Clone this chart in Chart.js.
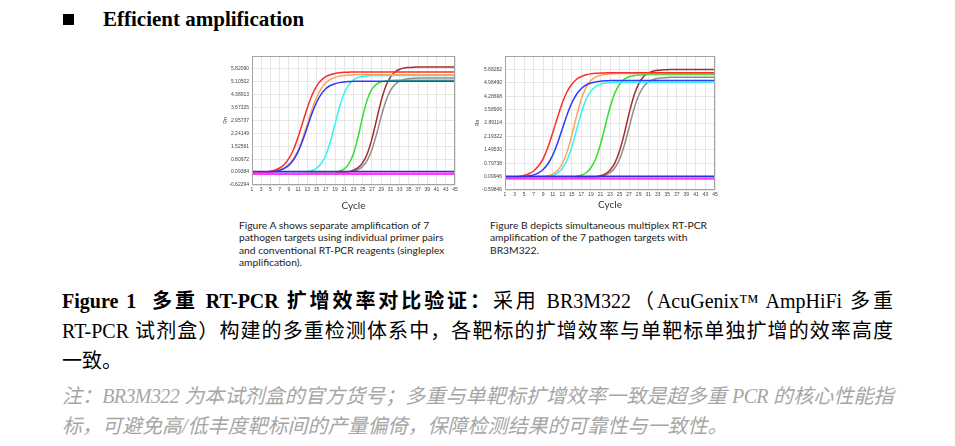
<!DOCTYPE html>
<html><head><meta charset="utf-8">
<script src="https://cdn.jsdelivr.net/npm/chart.js@4.4.0/dist/chart.umd.min.js"></script>
<style>
html,body{margin:0;padding:0;background:#fff;width:955px;height:446px;overflow:hidden;position:relative;}
.abs{position:absolute;}
#bullet{left:63px;top:14px;width:11px;height:11px;background:#000;}
#head{left:103px;top:9px;font:bold 21px/21px "Liberation Serif";color:#000;white-space:nowrap;}
.cap{font-family:Lato;font-size:11px;line-height:12.4px;color:#222;white-space:nowrap;}
.main{left:62px;width:831px;font-family:"Liberation Serif","Noto Sans CJK SC";font-size:20px;line-height:30px;color:#000;}
.just{text-align:justify;text-align-last:justify;}
.note{color:#a6a6a6;font-style:italic;}
.tight{letter-spacing:-0.6px;}
canvas{position:absolute;}
</style>
</head><body>
<div id="bullet" class="abs"></div>
<div id="head" class="abs">Efficient amplification</div>

<canvas id="cA" width="245" height="165" style="left:215px;top:50px;width:245px;height:165px"></canvas>
<canvas id="cB" width="248" height="165" style="left:472px;top:50px;width:248px;height:165px"></canvas>

<div id="capA" class="abs cap" style="left:239px;top:219px" data-w="191">Figure A shows separate amplification of 7<br>pathogen targets using individual primer pairs<br>and conventional RT-PCR reagents (singleplex<br>amplification).</div>
<div id="capB" class="abs cap" style="left:490px;top:219px" data-w="217">Figure B depicts simultaneous multiplex RT-PCR<br>amplification of the 7 pathogen targets with<br>BR3M322.</div>

<div class="abs main just" style="top:286px"><b>Figure 1&nbsp; 多重 RT-PCR 扩增效率对比验证：</b>采用 BR3M322（AcuGenix™ AmpHiFi 多重</div>
<div class="abs main just" style="top:316px">RT-PCR 试剂盒）构建的多重检测体系中，各靶标的扩增效率与单靶标单独扩增的效率高度</div>
<div class="abs main" style="top:346px">一致。</div>
<div class="abs main just note tight" style="top:381px">注：BR3M322 为本试剂盒的官方货号；多重与单靶标扩增效率一致是超多重 PCR 的核心性能指</div>
<div class="abs main note" style="top:411px">标，可避免高/低丰度靶标间的产量偏倚，保障检测结果的可靠性与一致性。</div>

<script>
const cycles = [1,2,3,4,5,6,7,8,9,10,11,12,13,14,15,16,17,18,19,20,21,22,23,24,25,26,27,28,29,30,31,32,33,34,35,36,37,38,39,40,41,42,43,44,45];

const yTickLabelsA = ["-0.62294","0.09384","0.80972","1.52561","2.24149","2.95737","3.67325","4.38913","5.10502","5.82090"];
const yTickLabelsB = ["-0.59846","0.09946","0.79738","1.49530","2.19322","2.89114","3.58906","4.28698","4.98490","5.68282"];

// Figure A (singleplex)
const redA = [0.07,0.07,0.09,0.11,0.14,0.21,0.32,0.52,0.85,1.35,2.04,2.86,3.67,4.36,4.86,
  5.19,5.39,5.50,5.57,5.61,5.63,5.64,5.65,5.65,5.65,5.65,5.65,5.65,5.65,5.65,
  5.65,5.65,5.65,5.65,5.65,5.65,5.65,5.65,5.65,5.65,5.65,5.65,5.65,5.65,5.65];
const orangeA = [0.06,0.07,0.07,0.08,0.10,0.14,0.21,0.32,0.51,0.83,1.32,1.99,2.78,3.57,4.24,
  4.73,5.05,5.24,5.35,5.42,5.46,5.48,5.49,5.50,5.50,5.50,5.50,5.50,5.50,5.50,
  5.50,5.50,5.50,5.50,5.50,5.50,5.50,5.50,5.50,5.50,5.50,5.50,5.50,5.50,5.50];
const blueA = [0.06,0.07,0.07,0.08,0.10,0.14,0.20,0.30,0.48,0.78,1.23,1.86,2.60,3.34,3.97,
  4.42,4.72,4.90,5.00,5.06,5.10,5.12,5.13,5.14,5.14,5.14,5.14,5.14,5.14,5.14,
  5.14,5.14,5.14,5.14,5.14,5.14,5.14,5.14,5.14,5.14,5.14,5.14,5.14,5.14,5.14];
const cyanA = [0.06,0.06,0.06,0.06,0.06,0.06,0.06,0.06,0.06,0.07,0.07,0.09,0.12,0.18,0.31,
  0.57,1.04,1.79,2.76,3.73,4.48,4.95,5.21,5.34,5.40,5.43,5.45,5.46,5.46,5.46,
  5.46,5.46,5.46,5.46,5.46,5.46,5.46,5.46,5.46,5.46,5.46,5.46,5.46,5.46,5.46];
const greenA = [0.06,0.06,0.06,0.06,0.06,0.06,0.06,0.06,0.06,0.06,0.06,0.06,0.06,0.06,0.06,
  0.06,0.07,0.08,0.10,0.15,0.27,0.55,1.12,2.06,3.19,4.13,4.70,4.98,5.10,5.15,
  5.18,5.19,5.19,5.19,5.19,5.19,5.19,5.19,5.19,5.19,5.19,5.19,5.19,5.19,5.19];
const grayA = [0.06,0.06,0.06,0.06,0.06,0.06,0.06,0.06,0.06,0.06,0.06,0.06,0.06,0.06,0.06,
  0.06,0.06,0.06,0.06,0.07,0.08,0.10,0.14,0.23,0.42,0.76,1.35,2.20,3.18,4.03,
  4.62,4.96,5.15,5.24,5.28,5.30,5.31,5.32,5.32,5.32,5.32,5.32,5.32,5.32,5.32];
const brownA = [0.06,0.06,0.06,0.06,0.06,0.06,0.06,0.06,0.06,0.06,0.06,0.06,0.06,0.06,0.06,
  0.06,0.06,0.06,0.07,0.07,0.09,0.12,0.20,0.34,0.62,1.13,1.94,3.00,4.05,4.86,
  5.37,5.65,5.80,5.87,5.90,5.92,5.93,5.93,5.93,5.93,5.93,5.93,5.93,5.93,5.93];
const flatBlueA = [0.13,0.13,0.13,0.13,0.13,0.13,0.13,0.13,0.13,0.13,0.13,0.13,0.13,0.13,0.13,
  0.13,0.13,0.13,0.13,0.13,0.13,0.13,0.13,0.13,0.13,0.13,0.13,0.13,0.13,0.13,
  0.13,0.13,0.13,0.13,0.13,0.13,0.13,0.13,0.13,0.13,0.13,0.13,0.13,0.13,0.13];
const flatMagentaA = [0.00,0.00,0.00,0.00,0.00,0.00,0.00,0.00,0.00,0.00,0.00,0.00,0.00,0.00,0.00,
  0.00,0.00,0.00,0.00,0.00,0.00,0.00,0.00,0.00,0.00,0.00,0.00,0.00,0.00,0.00,
  0.00,0.00,0.00,0.00,0.00,0.00,0.00,0.00,0.00,0.00,0.00,0.00,0.00,0.00,0.00];

// Figure B (multiplex)
const redB = [0.06,0.07,0.08,0.11,0.16,0.25,0.39,0.65,1.04,1.63,2.38,3.18,3.93,4.52,4.91,
  5.17,5.31,5.40,5.45,5.48,5.49,5.50,5.51,5.51,5.51,5.51,5.51,5.51,5.51,5.51,
  5.51,5.51,5.51,5.51,5.51,5.51,5.51,5.51,5.51,5.51,5.51,5.51,5.51,5.51,5.51];
const blueB = [0.05,0.06,0.06,0.07,0.09,0.13,0.19,0.29,0.47,0.77,1.22,1.84,2.58,3.32,3.94,
  4.39,4.69,4.87,4.97,5.03,5.07,5.09,5.10,5.11,5.11,5.11,5.11,5.11,5.11,5.11,
  5.11,5.11,5.11,5.11,5.11,5.11,5.11,5.11,5.11,5.11,5.11,5.11,5.11,5.11,5.11];
const orangeB = [0.05,0.05,0.05,0.05,0.05,0.05,0.06,0.07,0.09,0.14,0.23,0.42,0.77,1.38,2.26,
  3.26,4.14,4.75,5.10,5.29,5.38,5.43,5.45,5.46,5.47,5.47,5.47,5.47,5.47,5.47,
  5.47,5.47,5.47,5.47,5.47,5.47,5.47,5.47,5.47,5.47,5.47,5.47,5.47,5.47,5.47];
const cyanB = [0.05,0.05,0.05,0.05,0.05,0.05,0.06,0.06,0.08,0.10,0.16,0.28,0.52,0.95,1.65,
  2.54,3.42,4.12,4.55,4.79,4.91,4.97,4.99,5.01,5.02,5.02,5.02,5.02,5.02,5.02,
  5.02,5.02,5.02,5.02,5.02,5.02,5.02,5.02,5.02,5.02,5.02,5.02,5.02,5.02,5.02];
const greenB = [0.05,0.05,0.05,0.05,0.05,0.05,0.05,0.05,0.05,0.05,0.05,0.05,0.06,0.06,0.08,
  0.11,0.17,0.30,0.56,1.03,1.77,2.74,3.70,4.44,4.91,5.17,5.30,5.36,5.39,5.41,
  5.42,5.42,5.42,5.42,5.42,5.42,5.42,5.42,5.42,5.42,5.42,5.42,5.42,5.42,5.42];
const brownB = [0.05,0.05,0.05,0.05,0.05,0.05,0.05,0.05,0.05,0.05,0.05,0.05,0.05,0.05,0.05,
  0.05,0.05,0.06,0.07,0.09,0.14,0.24,0.43,0.80,1.43,2.34,3.39,4.30,4.93,5.30,
  5.49,5.59,5.64,5.66,5.67,5.68,5.68,5.68,5.68,5.68,5.68,5.68,5.68,5.68,5.68];
const grayB = [0.05,0.05,0.05,0.05,0.05,0.05,0.05,0.05,0.05,0.05,0.05,0.05,0.05,0.05,0.05,
  0.05,0.05,0.06,0.06,0.08,0.11,0.17,0.30,0.55,1.00,1.73,2.66,3.59,4.32,4.77,
  5.02,5.15,5.21,5.24,5.26,5.27,5.27,5.27,5.27,5.27,5.27,5.27,5.27,5.27,5.27];
const flatBlueB = [0.12,0.12,0.12,0.12,0.12,0.12,0.12,0.12,0.12,0.12,0.12,0.12,0.12,0.12,0.12,
  0.12,0.12,0.12,0.12,0.12,0.12,0.12,0.12,0.12,0.12,0.12,0.12,0.12,0.12,0.12,
  0.12,0.12,0.12,0.12,0.12,0.12,0.12,0.12,0.12,0.12,0.12,0.12,0.12,0.12,0.12];
const flatMagentaB = [0.00,0.00,0.00,0.00,0.00,0.00,0.00,0.00,0.00,0.00,0.00,0.00,0.00,0.00,0.00,
  0.00,0.00,0.00,0.00,0.00,0.00,0.00,0.00,0.00,0.00,0.00,0.00,0.00,0.00,0.00,
  0.00,0.00,0.00,0.00,0.00,0.00,0.00,0.00,0.00,0.00,0.00,0.00,0.00,0.00,0.00];

const COLORS = {red:'#ff2b2b', orange:'#ffa25a', blue:'#2b3cff', cyan:'#36f2f2', green:'#2fe02f',
  gray:'#8e8e8e', brown:'#a52d2d', flatBlue:'#2233e0', magenta:'#ff38ff'};

// fit caption font so its first line spans the width seen in the reference
(function fitCaptions(){
  const m = document.createElement('canvas').getContext('2d');
  ['capA','capB'].forEach(id=>{
    const el = document.getElementById(id);
    const first = el.innerHTML.split('<br>')[0];
    m.font = '10px Lato';
    const w = m.measureText(first).width;
    const target = parseFloat(el.dataset.w);
    if (w > 0) el.style.fontSize = (10*target/w).toFixed(2)+'px';
  });
})();

function ds(data, color, w){
  return {data, borderColor:color, backgroundColor:color, borderWidth:w||1.5,
    pointRadius:0, fill:false, cubicInterpolationMode:'monotone'};
}

const framePlugin = {
  id:'frame',
  afterDatasetsDraw(chart){
    const {ctx, chartArea:a} = chart;
    ctx.save();
    ctx.strokeStyle = '#a3a3a3';
    ctx.lineWidth = 1;
    ctx.strokeRect(Math.round(a.left)+0.5, Math.round(a.top)+0.5, Math.round(a.right-a.left)-1, Math.round(a.bottom-a.top)-1);
    ctx.restore();
  }
};

function makeChart(id, datasets, tickLabels, geo){
  const tickVals = tickLabels.map(parseFloat);
  const step = tickVals[1]-tickVals[0];
  const yMin = tickVals[0];
  const yMax = tickVals[tickVals.length-1] + step;
  return new Chart(document.getElementById(id), {
    type:'line',
    data:{labels:cycles, datasets},
    plugins:[framePlugin],
    options:{
      responsive:false, animation:false, devicePixelRatio:1,
      layout:{padding:{top:geo.padTop, right:geo.padRight, bottom:0, left:0}},
      plugins:{legend:{display:false}, tooltip:{enabled:false}},
      scales:{
        x:{
          type:'category', offset:false,
          grid:{drawTicks:false, color:(c)=> (cycles[c.index] % 2 === 1 ? '#e6e6e6' : 'rgba(0,0,0,0)'), lineWidth:1},
          border:{display:false},
          ticks:{autoSkip:false, maxRotation:0, minRotation:0, padding:2, color:'#444',
            font:{family:'Liberation Sans', size:5},
            callback:(v,i)=> (cycles[i] % 2 === 1 ? String(cycles[i]) : '')},
          title:{display:true, text:'Cycle', color:'#333', font:{family:'Lato', size:10},
            padding:{top:0, bottom:geo.titlePadBottom}},
          afterFit:(s)=>{ s.height = geo.xHeight; }
        },
        y:{
          type:'linear', min:yMin, max:yMax,
          afterBuildTicks:(axis)=>{ axis.ticks = tickVals.map(v=>({value:v})); },
          grid:{drawTicks:false, color:'#e6e6e6', lineWidth:1},
          border:{display:false},
          ticks:{autoSkip:false, padding:3, color:'#444', font:{family:'Liberation Sans', size:5},
            callback:(v,i)=> tickLabels[i]},
          title:{display:true, text:'Rn', color:'#333', font:{family:'Liberation Sans', size:5},
            padding:{top:geo.yTitlePad, bottom:0}},
          afterFit:(s)=>{ s.width = geo.yWidth; }
        }
      }
    }
  });
}

makeChart('cA', [
  ds(flatMagentaA, COLORS.magenta, 2.5),
  ds(flatBlueA, COLORS.flatBlue, 1.5),
  ds(redA, COLORS.red), ds(blueA, COLORS.blue), ds(orangeA, COLORS.orange),
  ds(cyanA, COLORS.cyan), ds(greenA, COLORS.green), ds(brownA, COLORS.brown), ds(grayA, COLORS.gray)
], yTickLabelsA, {padTop:4, padRight:5, xHeight:30, yWidth:37, titlePadBottom:3.3, yTitlePad:7.7});

makeChart('cB', [
  ds(flatMagentaB, COLORS.magenta, 2.5),
  ds(flatBlueB, COLORS.flatBlue, 1.5),
  ds(redB, COLORS.red), ds(blueB, COLORS.blue), ds(orangeB, COLORS.orange),
  ds(cyanB, COLORS.cyan), ds(greenB, COLORS.green), ds(brownB, COLORS.brown), ds(grayB, COLORS.gray)
], yTickLabelsB, {padTop:5, padRight:5, xHeight:25, yWidth:33, titlePadBottom:4, yTitlePad:3});
</script>
</body></html>
